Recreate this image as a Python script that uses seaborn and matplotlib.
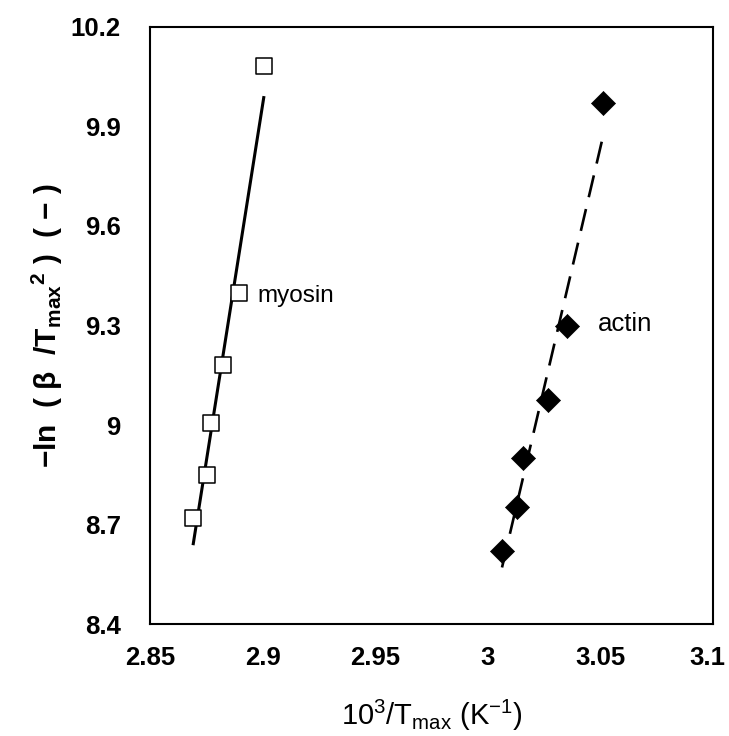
import numpy as np
import pandas as pd
import matplotlib
matplotlib.use("Agg")
import matplotlib.pyplot as plt
import matplotlib.transforms as mtransforms
import seaborn as sns

# Kissinger plot data: 10^3/Tmax vs -ln(beta/Tmax^2)
myosin_x = [2.8691, 2.8753, 2.8771, 2.8824, 2.8895, 2.9006]
myosin_y = [8.721, 8.850, 9.006, 9.180, 9.399, 10.083]
actin_x = [3.0063, 3.0130, 3.0156, 3.0267, 3.0352, 3.0512]
actin_y = [8.619, 8.754, 8.901, 9.075, 9.297, 9.972]

x_ticks = [2.85, 2.9, 2.95, 3.0, 3.05, 3.1]
x_tick_labels = ["2.85", "2.9", "2.95", "3", "3.05", "3.1"]
y_ticks = [8.4, 8.7, 9.0, 9.3, 9.6, 9.9, 10.2]
y_tick_labels = ["8.4", "8.7", "9", "9.3", "9.6", "9.9", "10.2"]

sns.set_theme(style="white")
plt.rcParams["font.family"] = ["Liberation Sans", "DejaVu Sans"]
plt.rcParams["mathtext.default"] = "regular"
plt.rcParams["text.color"] = "black"
plt.rcParams["axes.labelcolor"] = "black"

myosin = pd.DataFrame({"x": myosin_x, "y": myosin_y})
actin = pd.DataFrame({"x": actin_x, "y": actin_y})

fig = plt.figure(figsize=(7.29, 7.36), dpi=100)
ax = fig.add_axes([0.2058, 0.152, 0.7723, 0.8115])

# least-squares fit lines over each data range
sns.regplot(data=myosin, x="x", y="y", ax=ax, scatter=False, ci=None,
            truncate=True, line_kws=dict(color="black", lw=2.2,
                                         solid_capstyle="butt"))
sns.regplot(data=actin, x="x", y="y", ax=ax, scatter=False, ci=None,
            truncate=True, line_kws=dict(color="black", lw=1.9,
                                         linestyle=(0, (8.5, 4.6)),
                                         dash_capstyle="butt"))

sns.scatterplot(data=myosin, x="x", y="y", ax=ax, marker="s", s=125,
                facecolor="white", edgecolor="black", linewidth=1.1,
                zorder=3)
sns.scatterplot(data=actin, x="x", y="y", ax=ax, marker="D", s=150,
                color="black", edgecolor="black", linewidth=0.5, zorder=3)

ax.text(2.8975, 9.389, "myosin", fontsize=17.5, va="center", ha="left")
ax.text(3.049, 9.305, "actin", fontsize=18.5, va="center", ha="left")

ax.set_xlim(2.85, 3.1)
ax.set_ylim(8.4, 10.2)
ax.set_xticks(x_ticks)
ax.set_xticklabels(x_tick_labels, fontsize=18.5, fontweight="bold")
ax.set_yticks(y_ticks)
ax.set_yticklabels(y_tick_labels, fontsize=18.5, fontweight="bold")
ax.tick_params(direction="in", length=6.5, width=1.2, colors="black")
ax.tick_params(axis="y", pad=21)
ax.tick_params(axis="x", pad=16)

# keep the rightmost x tick label inside the figure edge
last = ax.get_xticklabels()[-1]
last.set_transform(last.get_transform()
                   + mtransforms.ScaledTranslation(-4 / 72, 0,
                                                   fig.dpi_scale_trans))

for side in ax.spines.values():
    side.set_color("black")
    side.set_linewidth(1.5)

ax.set_xlabel(r"10$^{3}$/T$_{max}$ (K$^{-1}$)", fontsize=21, labelpad=20)
ax.set_ylabel(r"$-$ln  ( $\beta$  /T$_{max}$$^{2}$ )  ( $-$ )", fontsize=21.5,
              fontweight="bold", labelpad=4)

fig.savefig("out.png", dpi=100)
